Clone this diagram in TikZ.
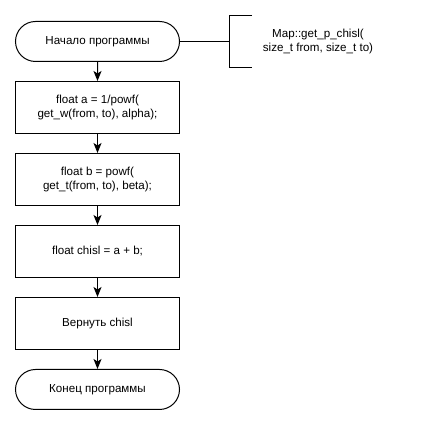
\documentclass[tikz,border=0pt]{standalone}
\usepackage{fontspec}
\setmainfont{Liberation Sans}
\usetikzlibrary{arrows.meta,shapes.misc}
\newcommand{\diagfont}{\fontsize{11.6pt}{13.8pt}\selectfont}
\begin{document}
\begin{tikzpicture}[x=1pt,y=1pt,
  every node/.style={font=\diagfont, align=center, inner sep=0pt},
  procbox/.style={draw=black, line width=1pt, rectangle, minimum width=164pt, minimum height=52pt},
  termbox/.style={draw=black, line width=1pt, rounded rectangle, rounded rectangle arc length=180, minimum width=164pt, minimum height=40pt},
  flow/.style={draw=black, line width=1pt, -{Stealth[length=10pt,width=8pt,inset=2.5pt]}},
  plain/.style={draw=black, line width=1pt}]
\useasboundingbox (0,0) rectangle (429,425);
\fill[white] (0,0) rectangle (429,425);
\node[termbox] (start) at (97.5,383.5) {Начало программы};
\node[procbox] (b1) at (97.5,317.5) {float a = 1/powf(\\get\_w(from, to), alpha);};
\node[procbox] (b2) at (97.5,245.5) {float b = powf(\\get\_t(from, to), beta);};
\node[procbox] (b3) at (97.5,173.5) {float chisl = a + b;};
\node[procbox] (b4) at (97.5,101.5) {Вернуть chisl};
\node[termbox] (end) at (97.5,35.5) {Конец программы};
\coordinate (bm) at (229.5,383.5);
\coordinate (bt) at (229.5,409.5);
\coordinate (bb) at (229.5,357.5);
\coordinate (btr) at (252,409.5);
\coordinate (bbr) at (252,357.5);
\node (ann) at (318,383.5) {Map::get\_p\_chisl(\\size\_t from, size\_t to)};
\draw[plain] (start.east) -- (bm);
\draw[plain] (btr) -- (bt) -- (bb) -- (bbr);
\draw[flow] (start) -- (b1);
\draw[flow] (b1) -- (b2);
\draw[flow] (b2) -- (b3);
\draw[flow] (b3) -- (b4);
\draw[flow] (b4) -- (end);
\end{tikzpicture}
\end{document}
